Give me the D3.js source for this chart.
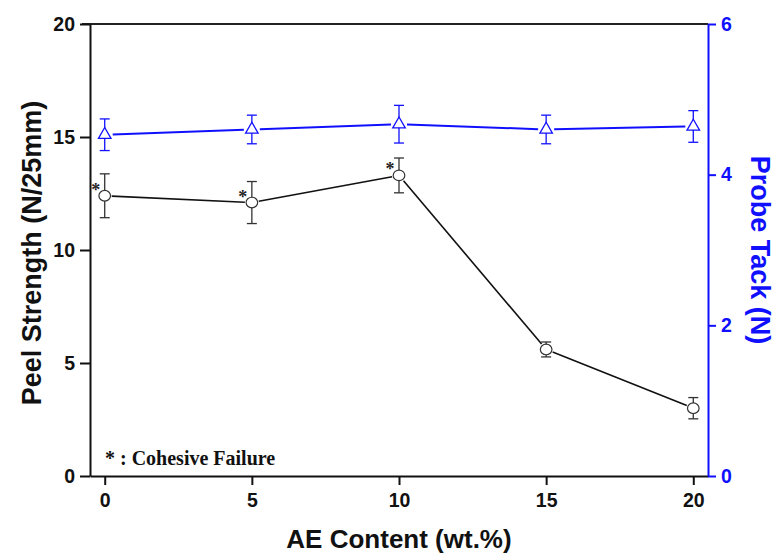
<!DOCTYPE html>
<html>
<head>
<meta charset="utf-8">
<script src="https://cdn.jsdelivr.net/npm/d3@7"></script>
<style>
    body { margin: 0; background: #fff; }
    svg { display: block; }
</style>
</head>
<body>
<svg id="chart"></svg>
<script>
// values
const aeContent = [0, 5, 10, 15, 20];
const peelStrength = [12.4, 12.1, 13.3, 5.6, 3.0];
const peelError = [0.97, 0.93, 0.77, 0.33, 0.47];
const probeTack = [4.53, 4.60, 4.67, 4.60, 4.64];
const tackError = [0.21, 0.19, 0.25, 0.19, 0.21];
const cohesiveFailure = [true, true, true, false, false];
const xTicks = [0, 5, 10, 15, 20];
const peelTicks = [0, 5, 10, 15, 20];
const tackTicks = [0, 2, 4, 6];

const width = 775;
const height = 557;
const margin = { top: 24, right: 67, bottom: 81, left: 90 };
const blue = "#1010ff";
const dark = "#333";
const sans = "'Liberation Sans', Arial, sans-serif";
const serif = "'Liberation Serif', 'Times New Roman', serif";

const svg = d3.select("#chart")
    .attr("width", width)
    .attr("height", height);

const xScale = d3.scaleLinear()
    .domain([-0.5, 20.5])
    .range([margin.left, width - margin.right]);

const yPeel = d3.scaleLinear()
    .domain([0, 20])
    .range([height - margin.bottom, margin.top]);

const yTack = d3.scaleLinear()
    .domain([0, 6])
    .range([height - margin.bottom, margin.top]);

// top frame line
svg.append("line")
    .attr("x1", margin.left - 8).attr("x2", width - margin.right)
    .attr("y1", margin.top).attr("y2", margin.top)
    .attr("stroke", "#222").attr("stroke-width", 2);

function styleAxis(g, color) {
    g.select(".domain").attr("stroke", color).attr("stroke-width", 2);
    g.selectAll(".tick line").attr("stroke", color).attr("stroke-width", 2);
    g.selectAll(".tick text")
        .attr("fill", color)
        .style("font-family", sans)
        .style("font-weight", "bold")
        .style("font-size", "19.5px");
}

// axes
const xAxis = svg.append("g")
    .attr("transform", "translate(0," + (height - margin.bottom) + ")")
    .call(d3.axisBottom(xScale).tickValues(xTicks).tickSize(9).tickPadding(8).tickSizeOuter(0));
styleAxis(xAxis, "#111");

const leftAxis = svg.append("g")
    .attr("transform", "translate(" + margin.left + ",0)")
    .call(d3.axisLeft(yPeel).tickValues(peelTicks).tickSize(10).tickPadding(5).tickSizeOuter(0));
styleAxis(leftAxis, "#111");

const rightAxis = svg.append("g")
    .attr("transform", "translate(" + (width - margin.right) + ",0)")
    .call(d3.axisRight(yTack).tickValues(tackTicks).tickFormat(d3.format("d"))
        .tickSize(8).tickPadding(5).tickSizeOuter(0));
styleAxis(rightAxis, blue);

// axis titles
svg.append("text")
    .attr("transform", "translate(41," + ((margin.top + height - margin.bottom) / 2 + 3) + ") rotate(-90)")
    .attr("text-anchor", "middle")
    .style("font-family", sans)
    .style("font-weight", "bold")
    .style("font-size", "27px")
    .attr("fill", "#111")
    .text("Peel Strength (N/25mm)");

svg.append("text")
    .attr("transform", "translate(751," + ((margin.top + height - margin.bottom) / 2) + ") rotate(90)")
    .attr("text-anchor", "middle")
    .style("font-family", sans)
    .style("font-weight", "bold")
    .style("font-size", "27px")
    .attr("fill", blue)
    .text("Probe Tack (N)");

svg.append("text")
    .attr("x", xScale(10))
    .attr("y", 548)
    .attr("text-anchor", "middle")
    .style("font-family", sans)
    .style("font-weight", "bold")
    .style("font-size", "26px")
    .attr("fill", "#111")
    .text("AE Content (wt.%)");

// connecting lines, cut short so they stop before the markers
function drawSegments(values, yScale, color, lineWidth, gap) {
    const pts = aeContent.map((x, i) => [xScale(x), yScale(values[i])]);
    for (let i = 0; i < pts.length - 1; ++i) {
        const [x1, y1] = pts[i];
        const [x2, y2] = pts[i + 1];
        const len = Math.hypot(x2 - x1, y2 - y1);
        const ux = (x2 - x1) / len;
        const uy = (y2 - y1) / len;
        svg.append("line")
            .attr("x1", x1 + ux * gap).attr("y1", y1 + uy * gap)
            .attr("x2", x2 - ux * gap).attr("y2", y2 - uy * gap)
            .attr("stroke", color)
            .attr("stroke-width", lineWidth);
    }
}

function drawErrorBars(values, errors, yScale, color, cls) {
    const g = svg.append("g").attr("class", cls);
    aeContent.forEach((x, i) => {
        const cx = xScale(x);
        const top = yScale(values[i] + errors[i]);
        const bottom = yScale(values[i] - errors[i]);
        g.append("line")
            .attr("x1", cx).attr("x2", cx)
            .attr("y1", top).attr("y2", bottom)
            .attr("stroke", color).attr("stroke-width", 1.3);
        [top, bottom].forEach(yy => {
            g.append("line")
                .attr("x1", cx - 5).attr("x2", cx + 5)
                .attr("y1", yy).attr("y2", yy)
                .attr("stroke", color).attr("stroke-width", 1.3);
        });
    });
}

drawSegments(probeTack, yTack, blue, 2, 8);
drawSegments(peelStrength, yPeel, "#111", 1.6, 7);

drawErrorBars(probeTack, tackError, yTack, blue, "tack-err");
drawErrorBars(peelStrength, peelError, yPeel, dark, "peel-err");

// probe tack markers (open triangles)
svg.selectAll(".tack-marker")
    .data(aeContent)
    .enter()
    .append("path")
    .attr("class", "tack-marker")
    .attr("d", d3.symbol().type(d3.symbolTriangle).size(68))
    .attr("transform", (d, i) => "translate(" + xScale(d) + "," + yTack(probeTack[i]) + ")")
    .attr("fill", "#fff")
    .attr("stroke", blue)
    .attr("stroke-width", 1.3);

// peel strength markers (open circles)
svg.selectAll(".peel-marker")
    .data(aeContent)
    .enter()
    .append("ellipse")
    .attr("class", "peel-marker")
    .attr("cx", d => xScale(d))
    .attr("cy", (d, i) => yPeel(peelStrength[i]))
    .attr("rx", 5.8)
    .attr("ry", 5.3)
    .attr("fill", "#fff")
    .attr("stroke", dark)
    .attr("stroke-width", 1.2);

// asterisks for cohesive failure
svg.selectAll(".star")
    .data(aeContent.filter((d, i) => cohesiveFailure[i]))
    .enter()
    .append("text")
    .attr("class", "star")
    .attr("x", d => xScale(d) - 9)
    .attr("y", d => yPeel(peelStrength[aeContent.indexOf(d)]) + 0)
    .attr("text-anchor", "middle")
    .style("font-family", serif)
    .style("font-weight", "bold")
    .style("font-size", "18px")
    .attr("fill", "#222")
    .text("*");

svg.append("text")
    .attr("x", 105)
    .attr("y", 465)
    .style("font-family", serif)
    .style("font-weight", "bold")
    .style("font-size", "20px")
    .attr("fill", "#111")
    .text("* : Cohesive Failure");
</script>
</body>
</html>
